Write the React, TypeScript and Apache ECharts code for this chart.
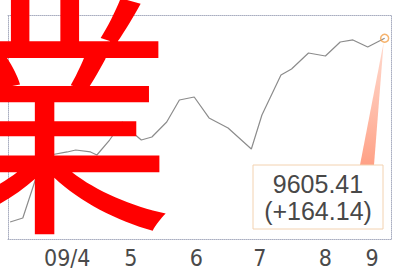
import { useEffect, useRef } from "react";
import * as echarts from "echarts";

// days counted from 2009-03-01
const days = [4, 10, 17, 23, 31, 35, 42, 45, 51, 57, 61, 66, 71, 78, 84, 91, 98, 107, 118, 123, 132, 137, 145, 153, 160, 166, 173, 181];
const values = [6882, 6942, 7608, 7875, 7920, 7949, 7920, 7875, 8097, 8364, 8231, 8097, 8142, 8364, 8690, 8735, 8424, 8275, 7964, 8468, 9061, 9150, 9387, 9342, 9550, 9580, 9476, 9605.41];
const tickDays = [31, 61, 92, 122, 153, 175];
const tickLabels = ["09/4", "5", "6", "7", "8", "9"];
const lastValueText = "9605.41";
const lastChangeText = "(+164.14)";
const overlayChar = "業";

export default function App() {
  const ref = useRef<HTMLDivElement>(null);
  useEffect(() => {
    if (!ref.current) return;
    const chart = echarts.init(ref.current, null, { renderer: "svg" });
    const lineData = days.map((d, i) => [d, values[i]]);
    const last = lineData[lineData.length - 1];
    const dotted = { color: "#a9aec0", type: "dotted" as const, width: 1 };
    chart.setOption({
      animation: false,
      backgroundColor: "#ffffff",
      grid: { left: 8, right: 3, top: 15, bottom: 35 },
      xAxis: [
        {
          type: "value",
          min: 3,
          max: 184,
          axisLine: { show: true, lineStyle: dotted },
          axisTick: { show: false },
          splitLine: { show: false },
          axisLabel: {
            customValues: tickDays,
            formatter: (v: number) => {
              const i = tickDays.indexOf(v);
              return i >= 0 ? tickLabels[i] : "";
            },
            color: "#4a4a4a",
            fontSize: 23,
            fontFamily: "'Liberation Sans Narrow', 'DejaVu Sans Condensed', 'Liberation Sans', sans-serif",
            margin: 7,
          },
        },
        {
          type: "value",
          position: "top",
          min: 3,
          max: 184,
          axisLine: { show: true, onZero: false, lineStyle: dotted },
          axisTick: { show: false },
          axisLabel: { show: false },
          splitLine: { show: false },
        },
      ],
      yAxis: [
        {
          type: "value",
          min: 6630,
          max: 9950,
          axisLine: { show: true, lineStyle: dotted },
          axisTick: { show: false },
          axisLabel: { show: false },
          splitLine: { show: false },
        },
        {
          type: "value",
          position: "right",
          min: 6630,
          max: 9950,
          axisLine: { show: true, onZero: false, lineStyle: dotted },
          axisTick: { show: false },
          axisLabel: { show: false },
          splitLine: { show: false },
        },
      ],
      series: [
        {
          type: "line",
          data: lineData,
          symbol: "none",
          lineStyle: { color: "#8c8c8c", width: 1.2 },
          z: 3,
        },
        {
          type: "scatter",
          data: [last],
          symbol: "circle",
          symbolSize: 8,
          itemStyle: { color: "rgba(255,255,255,0)", borderColor: "#f4a04a", borderWidth: 1.5 },
          z: 6,
        },
      ],
    });
    const tip = chart.convertToPixel({ gridIndex: 0 }, last) as number[];
    const boxX = 253, boxY = 165, boxW = 130, boxH = 64;
    chart.setOption({
      graphic: [
        {
          type: "polygon",
          z: 4,
          shape: { points: [[tip[0] - 1, tip[1] + 4], [boxX + 107, boxY], [boxX + 121, boxY]] },
          style: {
            fill: new echarts.graphic.LinearGradient(0, 0, 0, 1, [
              { offset: 0, color: "rgba(255,190,170,0.6)" },
              { offset: 1, color: "rgba(255,150,120,0.9)" },
            ]),
          },
        },
        {
          type: "rect",
          z: 5,
          shape: { x: boxX, y: boxY, width: boxW, height: boxH },
          style: { fill: "#ffffff", stroke: "#f3d2b0", lineWidth: 1 },
        },
        {
          type: "text",
          z: 6,
          x: boxX + boxW / 2,
          y: 184,
          style: {
            text: lastValueText,
            fill: "#484848",
            font: "25px 'Liberation Sans', Arial, sans-serif",
            align: "center",
            verticalAlign: "middle",
          },
        },
        {
          type: "text",
          z: 6,
          x: boxX + boxW / 2,
          y: 211,
          style: {
            text: lastChangeText,
            fill: "#484848",
            font: "25px 'Liberation Sans', Arial, sans-serif",
            align: "center",
            verticalAlign: "middle",
          },
        },
        {
          type: "text",
          z: 100,
          x: 45,
          y: 100,
          style: {
            text: overlayChar,
            fill: "#ff0000",
            font: "260px 'Noto Sans CJK JP'",
            lineHeight: 230,
            align: "center",
            verticalAlign: "middle",
          },
        },
      ],
    });
    return () => chart.dispose();
  }, []);
  return <div ref={ref} style={{ width: 394, height: 274, position: "fixed", left: 0, top: 0 }} />;
}
